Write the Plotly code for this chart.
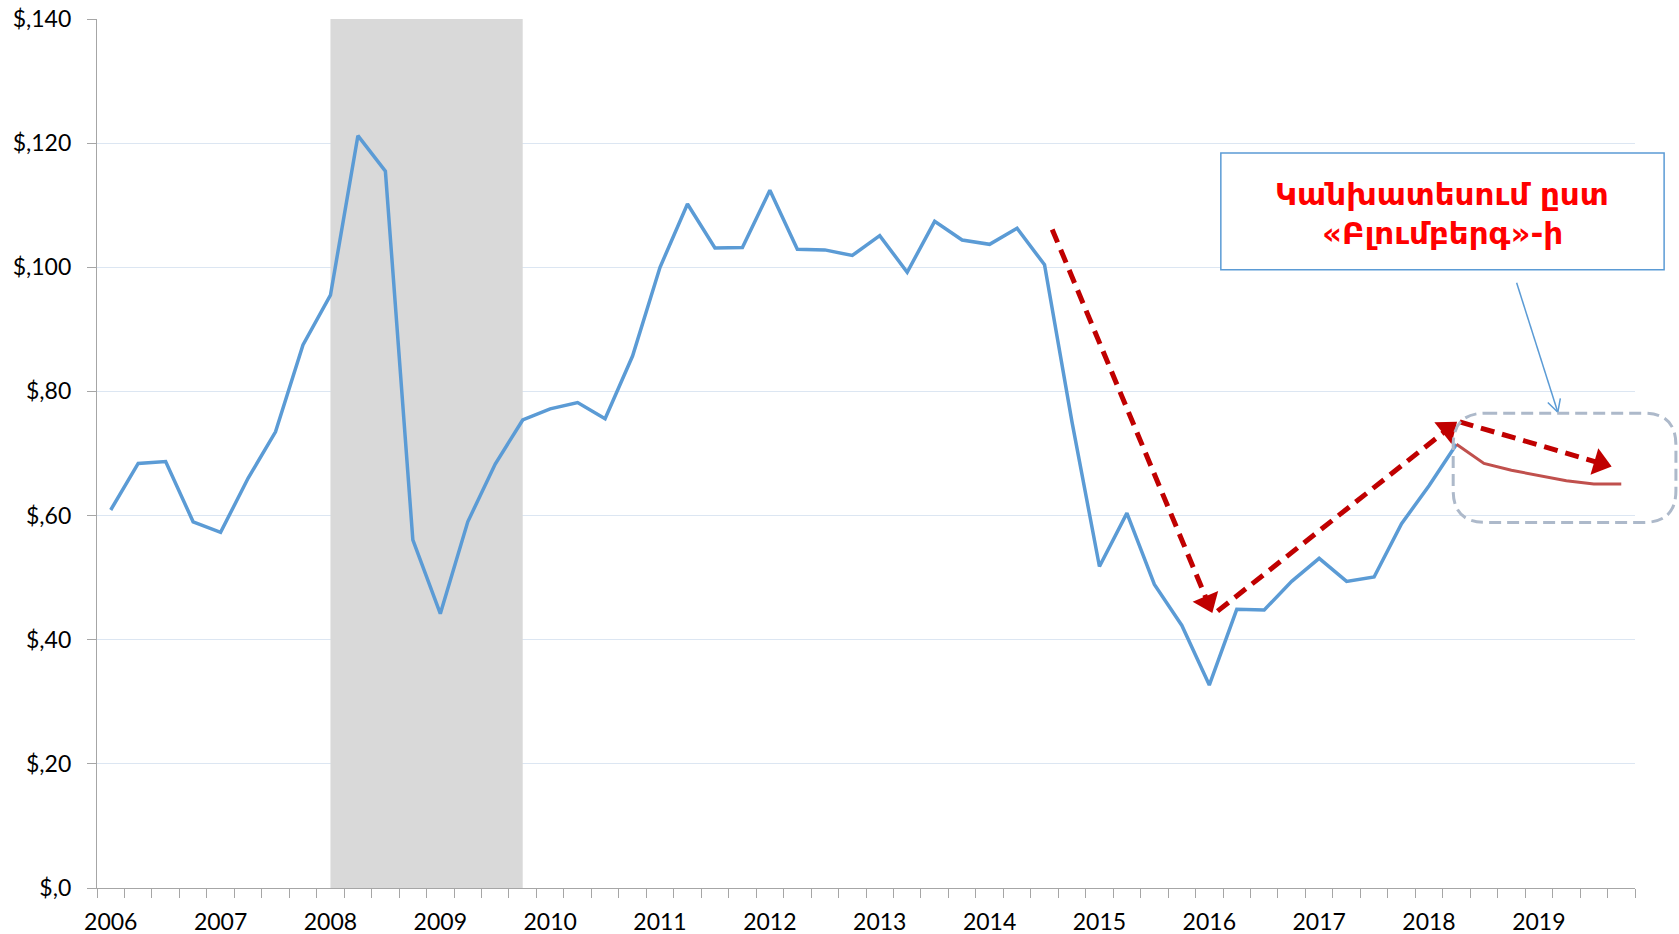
import math
import plotly.graph_objects as go

# ---------------- data ----------------
years = [str(y) for y in range(2006, 2020)]
quarters = [f"{y} Q{q}" for y in range(2006, 2020) for q in range(1, 5)]

# quarterly oil price, 2006 Q1 .. 2018 Q2 (USD per barrel)
actual_price = [60.9, 68.4, 68.7, 59.0, 57.3, 66.0, 73.5, 87.5, 95.5, 121.2,
                115.5, 56.1, 44.2, 59.0, 68.3, 75.4, 77.2, 78.2, 75.6, 85.7,
                100.0, 110.2, 103.1, 103.2, 112.4, 102.9, 102.8, 101.9, 105.1, 99.2,
                107.4, 104.4, 103.7, 106.3, 100.4, 75.1, 51.8, 60.4, 48.9, 42.3,
                32.7, 44.9, 44.8, 49.4, 53.1, 49.4, 50.1, 58.7, 64.8, 71.5]
# Bloomberg forecast, 2018 Q2 .. 2019 Q4
forecast_price = [71.5, 68.4, 67.3, 66.5, 65.6, 65.1, 65.1]

recession_quarters = ["2008 Q1", "2009 Q4"]

y_ticks = [0, 20, 40, 60, 80, 100, 120, 140]
y_tick_labels = ["$,0", "$,20", "$,40", "$,60", "$,80", "$,100", "$,120", "$,140"]

box_lines = ["Կանխատեսում ըստ", "«Բլումբերգ»-ի"]

# trend arrows (start, tip) in (quarter index, price)
trend_arrows = [((34.28, 106.1), (40.11, 44.3)),
                ((40.30, 44.6), (49.02, 75.1)),
                ((49.12, 75.1), (54.65, 67.9))]

# ---------------- layout geometry ----------------
W, H = 1679, 934
L, R, T, B = 97, 44, 19, 46
PW, PH = W - L - R, H - T - B
N = len(quarters)
XMIN, XMAX = -0.5, N - 0.5
YMAX = 140


def to_px(x, y):
    return L + (x - XMIN) / (XMAX - XMIN) * PW, T + (1 - y / YMAX) * PH


def to_data(u, v):
    return XMIN + (u - L) / PW * (XMAX - XMIN), (1 - (v - T) / PH) * YMAX


def xp(x):
    return (x - XMIN) / (XMAX - XMIN)


def yp(y):
    return y / YMAX


BLUE = "#5B9BD5"
RED = "#C0504D"
DARKRED = "#C00000"
GRID = "#DCE6F2"
AXIS = "#A6A6A6"

fig = go.Figure()

x_actual = list(range(len(actual_price)))
x_fore = list(range(len(actual_price) - 1, len(actual_price) - 1 + len(forecast_price)))

fig.add_trace(go.Scatter(x=x_actual, y=actual_price, mode="lines",
                         line=dict(color=BLUE, width=3.5), hoverinfo="skip"))
fig.add_trace(go.Scatter(x=x_fore, y=forecast_price, mode="lines",
                         line=dict(color=RED, width=3), hoverinfo="skip"))

# red dashed trend arrows
HEAD = 24
for (s, t) in trend_arrows:
    sx, sy = to_px(*s)
    tx, ty = to_px(*t)
    d = math.hypot(tx - sx, ty - sy)
    ux, uy = (tx - sx) / d, (ty - sy) / d
    cx, cy = tx - ux * HEAD / 2, ty - uy * HEAD / 2
    c = to_data(cx, cy)
    fig.add_trace(go.Scatter(
        x=[s[0], c[0]], y=[s[1], c[1]], mode="lines+markers",
        line=dict(color=DARKRED, width=5, dash="14px,8px"),
        marker=dict(size=[0, HEAD], symbol="triangle-up", angleref="previous",
                    color=DARKRED, opacity=1, line=dict(width=0)),
        hoverinfo="skip"))

# thin blue pointer arrow from the label box
ps, pt = (51.19, 97.5), (52.69, 76.65)
sx, sy = to_px(*ps)
tx, ty = to_px(*pt)
d = math.hypot(tx - sx, ty - sy)
bx, by = (sx - tx) / d, (sy - ty) / d
wings = []
for a in (math.radians(28), -math.radians(28)):
    wx = tx + 14 * (bx * math.cos(a) - by * math.sin(a))
    wy = ty + 14 * (bx * math.sin(a) + by * math.cos(a))
    wings.append(to_data(wx, wy))
fig.add_trace(go.Scatter(
    x=[ps[0], pt[0], None, wings[0][0], pt[0], wings[1][0]],
    y=[ps[1], pt[1], None, wings[0][1], pt[1], wings[1][1]],
    mode="lines", line=dict(color=BLUE, width=1.5), hoverinfo="skip"))

# recession shading
r0 = quarters.index(recession_quarters[0])
r1 = quarters.index(recession_quarters[1])
fig.add_shape(type="rect", xref="x", yref="y", x0=r0, x1=r1, y0=0, y1=YMAX,
              fillcolor="#D9D9D9", line=dict(width=0), layer="between")

# label box
bx0, bx1, by0, by1 = 40.42, 56.56, 99.6, 118.4
fig.add_shape(type="rect", xref="paper", yref="paper",
              x0=xp(bx0), x1=xp(bx1), y0=yp(by0), y1=yp(by1),
              line=dict(color=BLUE, width=1.5), fillcolor="white", layer="above")
for txt, ly in zip(box_lines, (111.8, 105.5)):
    fig.add_annotation(xref="paper", yref="paper", x=xp((bx0 + bx1) / 2), y=yp(ly),
                       text=f"<b>{txt}</b>", showarrow=False, xanchor="center",
                       yanchor="middle",
                       font=dict(family="DejaVu Sans", size=31, color="#FF0000"))

# dashed rounded frame around the forecast
fx0, fx1, fy0, fy1 = 48.88, 56.99, 58.9, 76.5
rad = 32
rx, ry = rad / PW, rad / PH
X0, X1, Y0, Y1 = xp(fx0), xp(fx1), yp(fy0), yp(fy1)
path = (f"M {X0+rx},{Y1} L {X1-rx},{Y1} Q {X1},{Y1} {X1},{Y1-ry} "
        f"L {X1},{Y0+ry} Q {X1},{Y0} {X1-rx},{Y0} L {X0+rx},{Y0} "
        f"Q {X0},{Y0} {X0},{Y0+ry} L {X0},{Y1-ry} Q {X0},{Y1} {X0+rx},{Y1} Z")
fig.add_shape(type="path", xref="paper", yref="paper", path=path,
              line=dict(color="#ADB9CA", width=3, dash="12px,6px"), layer="above")

tick_font = dict(family="Lato", size=23, color="#000000")

fig.update_layout(
    width=W, height=H,
    margin=dict(l=L, r=R, t=T, b=B, pad=0, autoexpand=False),
    paper_bgcolor="white", plot_bgcolor="white",
    showlegend=False,
    xaxis=dict(
        range=[XMIN, XMAX], showgrid=False, zeroline=False, automargin=False,
        showline=True, linecolor=AXIS, linewidth=1.3,
        tickmode="array", tickvals=[quarters.index(f"{y} Q1") for y in years],
        ticktext=years, ticks="", tickfont=tick_font, ticklabelstandoff=13,
        minor=dict(tickmode="array", tickvals=[i - 0.5 for i in range(N + 1)],
                   ticks="outside", ticklen=9, tickcolor=AXIS, tickwidth=1.3,
                   showgrid=False),
        fixedrange=True,
    ),
    yaxis=dict(
        range=[0, YMAX], showgrid=True, gridcolor=GRID, gridwidth=1.3,
        zeroline=False, showline=True, linecolor=AXIS, linewidth=1.3,
        automargin=False,
        tickmode="array", tickvals=y_ticks, ticktext=y_tick_labels,
        ticks="outside", ticklen=9, tickcolor=AXIS, tickwidth=1.3,
        tickfont=tick_font, ticklabelstandoff=11, fixedrange=True,
    ),
)

fig.write_html("out.html", config={"displayModeBar": False},
               post_script="document.body.style.margin='0';"
                           "document.body.style.overflow='hidden';")
